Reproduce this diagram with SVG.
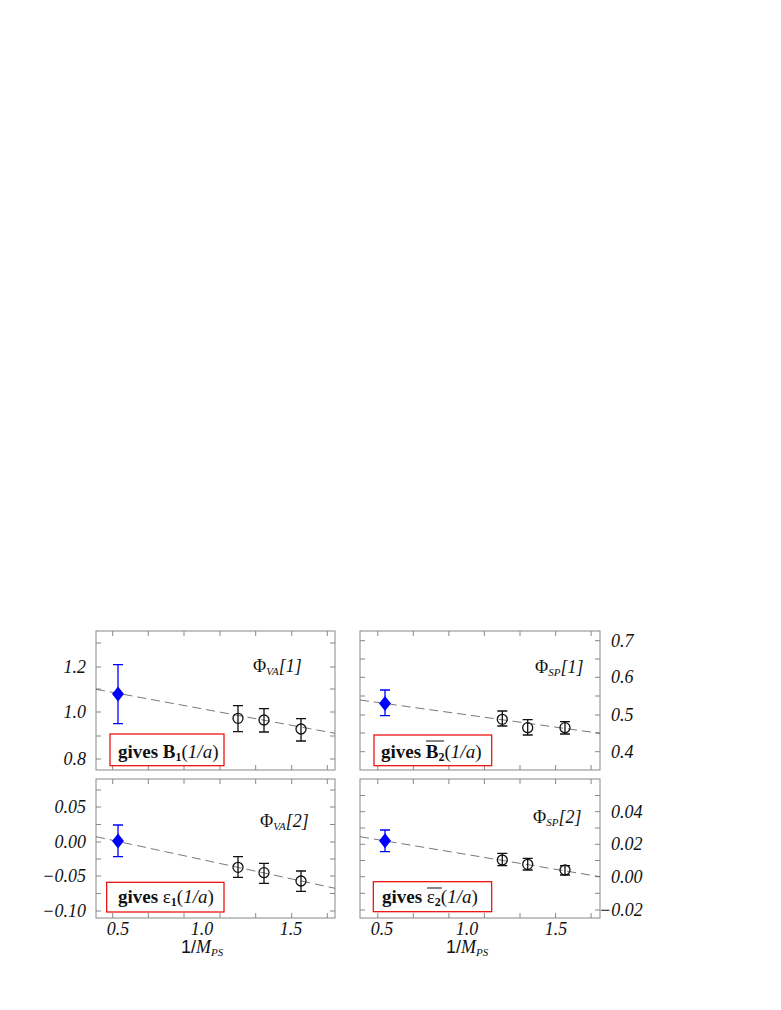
<svg xmlns="http://www.w3.org/2000/svg" width="781" height="1010" viewBox="0 0 781 1010" font-family="'Liberation Serif', 'Times New Roman', serif">
<style>
.fr{fill:none;stroke:#888;stroke-width:1}
.tk{stroke:#888;stroke-width:1}
.num{font-family:'Liberation Serif','Times New Roman',serif;font-style:italic;font-size:18px;fill:#111}
.lab{font-family:'Liberation Serif','Times New Roman',serif;font-size:18px;fill:#111}
.box{fill:#fff;stroke:#e00;stroke-width:1.2}
.gv{font-family:'Liberation Serif','Times New Roman',serif;font-weight:bold;font-size:19px;fill:#111}
.fit{stroke:#555;stroke-width:0.8;stroke-dasharray:9,5;fill:none}
.eb{stroke:#111;stroke-width:1.3;fill:none}
.ebb{stroke:#00f;stroke-width:1.3;fill:none}
.c{fill:none;stroke:#111;stroke-width:1.3}
.d{fill:#00f}
.ol{stroke:#111;stroke-width:1}
</style>
<rect width="781" height="1010" fill="#fff"/>
<g id="frames">
<rect class="fr" x="96" y="631" width="239" height="139"/>
<rect class="fr" x="96" y="779" width="239" height="139"/>
<rect class="fr" x="360" y="631" width="240" height="139"/>
<rect class="fr" x="360" y="779" width="240" height="139"/>
<path class="tk" d="M112.7 631v5M148.3 631v5M184 631v5M220 631v5M255.7 631v5M291.7 631v5M327.3 631v5M112.7 770v-5M148.3 770v-5M184 770v-5M220 770v-5M255.7 770v-5M291.7 770v-5M327.3 770v-5
M112.7 779v5M148.3 779v5M184 779v5M220 779v5M255.7 779v5M291.7 779v5M327.3 779v5M112.7 918v-5M148.3 918v-5M184 918v-5M220 918v-5M255.7 918v-5M291.7 918v-5M327.3 918v-5
M377.8 631v5M413.3 631v5M448.9 631v5M484.4 631v5M520 631v5M555.6 631v5M591.1 631v5M377.8 770v-5M413.3 770v-5M448.9 770v-5M484.4 770v-5M520 770v-5M555.6 770v-5M591.1 770v-5
M377.8 779v5M413.3 779v5M448.9 779v5M484.4 779v5M520 779v5M555.6 779v5M591.1 779v5M377.8 918v-5M413.3 918v-5M448.9 918v-5M484.4 918v-5M520 918v-5M555.6 918v-5M591.1 918v-5
M96 643h5M96 667h5M96 689h5M96 712h5M96 736h5M96 759h5M335 643h-5M335 667h-5M335 689h-5M335 712h-5M335 736h-5M335 759h-5
M96 790h5M96 807h5M96 824.5h5M96 842h5M96 859h5M96 876h5M96 893.5h5M96 911h5M335 790h-5M335 807h-5M335 824.5h-5M335 842h-5M335 859h-5M335 876h-5M335 893.5h-5M335 911h-5
M360 640.7h5M360 659h5M360 677.3h5M360 696h5M360 715h5M360 733h5M360 751.7h5M600 640.7h-5M600 659h-5M600 677.3h-5M600 696h-5M600 715h-5M600 733h-5M600 751.7h-5
M360 795.5h5M360 811.7h5M360 828h5M360 844.3h5M360 860.5h5M360 876.7h5M360 893.3h5M360 910h5M600 795.5h-5M600 811.7h-5M600 828h-5M600 844.3h-5M600 860.5h-5M600 876.7h-5M600 893.3h-5M600 910h-5"/>
</g>
<g id="axes-labels">
<text class="num" text-anchor="end" x="86" y="672.7">1.2</text>
<text class="num" text-anchor="end" x="86" y="718.3">1.0</text>
<text class="num" text-anchor="end" x="86" y="765">0.8</text>
<text class="num" text-anchor="end" x="86" y="813.3">0.05</text>
<text class="num" text-anchor="end" x="86" y="847.7">0.00</text>
<text class="num" text-anchor="end" x="86" y="882">−0.05</text>
<text class="num" text-anchor="end" x="86" y="917">−0.10</text>
<text class="num" x="611" y="646.7">0.7</text>
<text class="num" x="611" y="683.3">0.6</text>
<text class="num" x="611" y="721">0.5</text>
<text class="num" x="611" y="757.7">0.4</text>
<text class="num" x="611" y="817.7">0.04</text>
<text class="num" x="611" y="850.3">0.02</text>
<text class="num" x="611" y="882.7">0.00</text>
<text class="num" x="599" y="916">−0.02</text>
<text class="num" text-anchor="middle" x="118" y="935">0.5</text>
<text class="num" text-anchor="middle" x="202" y="935">1.0</text>
<text class="num" text-anchor="middle" x="291" y="935">1.5</text>
<text class="num" text-anchor="middle" x="382" y="935">0.5</text>
<text class="num" text-anchor="middle" x="467" y="935">1.0</text>
<text class="num" text-anchor="middle" x="556" y="935">1.5</text>
<text class="lab" x="181" y="953"><tspan font-family="'Liberation Sans',sans-serif">1/</tspan><tspan font-style="italic">M</tspan><tspan font-style="italic" font-size="11" dy="3">PS</tspan></text>
<text class="lab" x="446" y="953"><tspan font-family="'Liberation Sans',sans-serif">1/</tspan><tspan font-style="italic">M</tspan><tspan font-style="italic" font-size="11" dy="3">PS</tspan></text>
</g>
<g id="connectors">
<line class="fit" x1="96" y1="689.3" x2="335" y2="733.3"/>
<line class="fit" x1="360" y1="700" x2="600" y2="733.3"/>
<line class="fit" x1="96" y1="836.7" x2="335" y2="888.3"/>
<line class="fit" x1="360" y1="836.7" x2="600" y2="876.7"/>
</g>
<g id="data">
<path class="ebb" d="M118 664.7V723.7M113 664.7h10M113 723.7h10M385 690V715.7M380 690h10M380 715.7h10M118 825V856.7M113 825h10M113 856.7h10M385 830V851.7M380 830h10M380 851.7h10"/>
<path class="d" d="M118 686.5l6 7.5-6 7.5-6-7.5zM385 696l6 7.5-6 7.5-6-7.5zM118 833.5l6 7.5-6 7.5-6-7.5zM385 833.2l6 7.5-6 7.5-6-7.5z"/>
<path class="eb" d="M238 705.7V731.7M233 705.7h10M233 731.7h10M264 708.7V732M259 708.7h10M259 732h10M301 718.7V741M296 718.7h10M296 741h10
M502.3 711V726M497.3 711h10M497.3 726h10M527.7 719.7V735M522.7 719.7h10M522.7 735h10M565 721.7V734M560 721.7h10M560 734h10
M238 856.7V877.3M233 856.7h10M233 877.3h10M264 863.3V883.3M259 863.3h10M259 883.3h10M301 871V891.3M296 871h10M296 891.3h10
M502.3 853.3V865.7M497.3 853.3h10M497.3 865.7h10M527.7 858.3V870M522.7 858.3h10M522.7 870h10M565 865.7V875M560 865.7h10M560 875h10"/>
<g class="c"><circle cx="238" cy="718.3" r="5"/><circle cx="264" cy="720" r="5"/><circle cx="301" cy="729" r="5"/>
<circle cx="502.3" cy="719.3" r="5"/><circle cx="527.7" cy="727.7" r="5"/><circle cx="565" cy="727.7" r="5"/>
<circle cx="238" cy="867.3" r="5"/><circle cx="264" cy="872.7" r="5"/><circle cx="301" cy="881" r="5"/>
<circle cx="502.3" cy="860" r="5"/><circle cx="527.7" cy="864.3" r="5"/><circle cx="565" cy="870" r="5"/></g>
</g>
<g id="titles">
<text class="lab" x="253" y="672">Φ<tspan font-style="italic" font-size="11" dy="3">VA</tspan><tspan font-style="italic" dy="-3">[1]</tspan></text>
<text class="lab" x="535" y="673">Φ<tspan font-style="italic" font-size="11" dy="3">SP</tspan><tspan font-style="italic" dy="-3">[1]</tspan></text>
<text class="lab" x="260" y="826.7">Φ<tspan font-style="italic" font-size="11" dy="3">VA</tspan><tspan font-style="italic" dy="-3">[2]</tspan></text>
<text class="lab" x="533" y="823">Φ<tspan font-style="italic" font-size="11" dy="3">SP</tspan><tspan font-style="italic" dy="-3">[2]</tspan></text>
</g>
<g id="box1"><rect class="box" x="110" y="734" width="114" height="31.7"/>
<text class="gv" x="118" y="757.7">gives B<tspan font-size="12" dy="3">1</tspan><tspan font-weight="normal" dy="-3">(</tspan><tspan font-weight="normal" font-style="italic">1/a</tspan><tspan font-weight="normal">)</tspan></text></g>
<g id="box2"><rect class="box" x="374" y="735" width="117.7" height="30.7"/>
<text class="gv" x="381" y="758.3">gives B<tspan font-size="12" dy="3">2</tspan><tspan font-weight="normal" dy="-3">(</tspan><tspan font-weight="normal" font-style="italic">1/a</tspan><tspan font-weight="normal">)</tspan></text>
<line class="ol" x1="426" y1="741" x2="444" y2="741"/></g>
<g id="box3"><rect class="box" x="106.7" y="882.3" width="117.3" height="29.7"/>
<text class="gv" x="118" y="903">gives <tspan font-weight="normal">ε</tspan><tspan font-size="12" dy="3">1</tspan><tspan font-weight="normal" dy="-3">(</tspan><tspan font-weight="normal" font-style="italic">1/a</tspan><tspan font-weight="normal">)</tspan></text></g>
<g id="box4"><rect class="box" x="373.3" y="881.7" width="118.4" height="30"/>
<text class="gv" x="382" y="903">gives <tspan font-weight="normal">ε</tspan><tspan font-size="12" dy="3">2</tspan><tspan font-weight="normal" dy="-3">(</tspan><tspan font-weight="normal" font-style="italic">1/a</tspan><tspan font-weight="normal">)</tspan></text>
<line class="ol" x1="427" y1="888" x2="442" y2="888"/></g>
</svg>
